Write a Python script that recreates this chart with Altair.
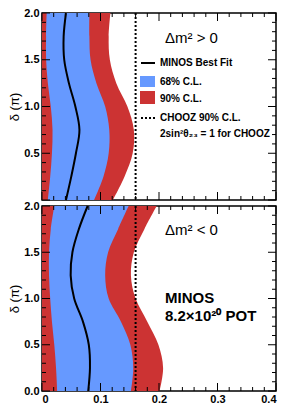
import altair as alt
import pandas as pd

# ---------------- data ----------------
delta = [0.0, 0.25, 0.5, 0.75, 1.0, 1.25, 1.5, 1.75, 2.0]
zero = [0.0, 0.0, 0.0, 0.0, 0.0, 0.0, 0.0, 0.0, 0.0]

# Delta m^2 > 0 (top panel)
pos_blue_lo = [0.010, 0.014, 0.017, 0.018, 0.015, 0.010, 0.007, 0.007, 0.008]
pos_best = [0.041, 0.050, 0.058, 0.064, 0.057, 0.046, 0.038, 0.037, 0.041]
pos_blue_hi = [0.089, 0.105, 0.114, 0.115, 0.108, 0.093, 0.083, 0.081, 0.081]
pos_red_hi = [0.121, 0.141, 0.155, 0.157, 0.146, 0.127, 0.116, 0.114, 0.117]

# Delta m^2 < 0 (bottom panel)
neg_blue_lo = [0.026, 0.024, 0.021, 0.017, 0.014, 0.012, 0.012, 0.015, 0.021]
neg_best = [0.079, 0.082, 0.080, 0.070, 0.055, 0.049, 0.052, 0.063, 0.078]
neg_blue_hi = [0.152, 0.156, 0.151, 0.135, 0.114, 0.108, 0.113, 0.130, 0.148]
neg_red_hi = [0.201, 0.207, 0.199, 0.180, 0.160, 0.152, 0.157, 0.175, 0.196]

chooz = [0.16]

x_major = [0.0, 0.1, 0.2, 0.3, 0.4]
x_minor = [0.02, 0.04, 0.06, 0.08, 0.12, 0.14, 0.16, 0.18, 0.22, 0.24, 0.26, 0.28,
           0.32, 0.34, 0.36, 0.38]
y_major = [0.0, 0.5, 1.0, 1.5, 2.0]
y_minor = [0.1, 0.2, 0.3, 0.4, 0.6, 0.7, 0.8, 0.9, 1.1, 1.2, 1.3, 1.4, 1.6, 1.7, 1.8, 1.9]
y_labels_top = [0.5, 1.0, 1.5, 2.0]
y_labels_bottom = [0.0, 0.5, 1.0, 1.5, 2.0]

legend_labels = ["MINOS Best Fit", "68% C.L.", "90% C.L.", "CHOOZ 90% C.L.",
                 "2sin\u00b2\u03b8\u2082\u2083 = 1 for CHOOZ"]
top_label = "\u0394m\u00b2 > 0"
bottom_label = "\u0394m\u00b2 < 0"
exposure_labels = ["MINOS", "8.2\u00d710\u00b2\u2070 POT"]

y_title = "\u03b4 (\u03c0)"

BLUE = "#6699ff"
RED = "#cc3333"
FONT = "Liberation Sans"
W = 234


def make_panel(blue_lo, best, blue_hi, red_hi, h, bottom, ylabels, texts):
    df = pd.DataFrame({"delta": delta, "zero": zero, "blue_lo": blue_lo,
                       "best": best, "blue_hi": blue_hi, "red_hi": red_hi})
    xscale = alt.Scale(domain=[0, 0.4], nice=False, zero=False)
    yscale = alt.Scale(domain=[0, 2], nice=False, zero=False)
    if bottom:
        xaxis = alt.Axis(values=x_major, ticks=False, domain=False, grid=False,
                         labelExpr="datum.value == 0 ? '0' : format(datum.value, '.1f')",
                         labelFont=FONT, labelFontWeight="bold", labelFontSize=11,
                         labelColor="black", labelPadding=2, labelFlush=True,
                         labelOverlap=False, labelBound=False, title=None)
    else:
        xaxis = None
    yaxis = alt.Axis(values=ylabels, format=".1f", ticks=False, domain=False, grid=False,
                     labelFont=FONT, labelFontWeight="bold", labelFontSize=11,
                     labelColor="black", labelPadding=3, labelFlush=False,
                     labelOverlap=False, labelBound=False,
                     title=y_title, titleFont=FONT, titleFontWeight="normal",
                     titleFontSize=13, titleColor="black", titlePadding=2)

    def X(f):
        return alt.X(f, scale=xscale, axis=xaxis, title=None)

    def Y(f):
        return alt.Y(f, scale=yscale, axis=yaxis, title=y_title)

    base = alt.Chart(df)
    red = base.mark_area(color=RED, orient="horizontal", interpolate="catmull-rom",
                         opacity=1).encode(y=Y("delta:Q"), x=X("zero:Q"), x2="red_hi:Q")
    blue = base.mark_area(color=BLUE, orient="horizontal", interpolate="catmull-rom",
                          opacity=1).encode(y=Y("delta:Q"), x=X("blue_lo:Q"), x2="blue_hi:Q")
    line = base.mark_line(color="black", strokeWidth=2, interpolate="catmull-rom").encode(
        y=Y("delta:Q"), x=X("best:Q"), order="delta:Q")
    ch = alt.Chart(pd.DataFrame({"c": chooz})).mark_rule(
        color="black", strokeWidth=2, strokeDash=[2, 2]).encode(x=X("c:Q"))

    layers = [red, blue, line, ch]

    # inward ticks
    for vals, L in [(x_major, 8), (x_minor, 4)]:
        d = alt.Chart(pd.DataFrame({"v": vals}))
        layers.append(d.mark_rule(color="black", strokeWidth=1).encode(
            x=X("v:Q"), y=alt.value(h), y2=alt.value(h - L)))
        layers.append(d.mark_rule(color="black", strokeWidth=1).encode(
            x=X("v:Q"), y=alt.value(0), y2=alt.value(L)))
    for vals, L in [(y_major, 8), (y_minor, 4)]:
        d = alt.Chart(pd.DataFrame({"v": vals}))
        layers.append(d.mark_rule(color="black", strokeWidth=1).encode(
            y=Y("v:Q"), x=alt.value(0), x2=alt.value(L)))
        layers.append(d.mark_rule(color="black", strokeWidth=1).encode(
            y=Y("v:Q"), x=alt.value(W - L), x2=alt.value(W)))

    one = alt.Chart(pd.DataFrame({"a": [0]}))
    for (txt, px, py, size, weight) in texts:
        layers.append(one.mark_text(align="left", baseline="middle", font=FONT,
                                    fontSize=size, fontWeight=weight, color="black").encode(
            x=alt.value(px), y=alt.value(py), text=alt.value(txt)))
    return layers, one


# top panel
top_texts = [
    (top_label, 123, 25, 15, "normal"),
    (legend_labels[0], 118, 50, 10, "bold"),
    (legend_labels[1], 118, 69, 10, "bold"),
    (legend_labels[2], 118, 86, 10, "bold"),
    (legend_labels[3], 118, 105, 10, "bold"),
    (legend_labels[4], 118, 121, 10, "bold"),
]
top_layers, one = make_panel(pos_blue_lo, pos_best, pos_blue_hi, pos_red_hi, 187, False,
                             y_labels_top, top_texts)
# legend symbols
top_layers.append(one.mark_rule(color="black", strokeWidth=2).encode(
    x=alt.value(99), x2=alt.value(113), y=alt.value(50)))
top_layers.append(one.mark_rect(color=BLUE).encode(
    x=alt.value(98), x2=alt.value(113), y=alt.value(63), y2=alt.value(74)))
top_layers.append(one.mark_rect(color=RED).encode(
    x=alt.value(98), x2=alt.value(113), y=alt.value(78), y2=alt.value(91)))
top_layers.append(one.mark_rule(color="black", strokeWidth=2, strokeDash=[2, 2]).encode(
    x=alt.value(99), x2=alt.value(113), y=alt.value(105)))

top = alt.layer(*top_layers).properties(width=W, height=187)

bottom_texts = [
    (bottom_label, 123, 24, 15, "normal"),
    (exposure_labels[0], 123, 92, 15, "bold"),
    (exposure_labels[1], 123, 110, 15, "bold"),
]
bot_layers, _ = make_panel(neg_blue_lo, neg_best, neg_blue_hi, neg_red_hi, 185, True,
                           y_labels_bottom, bottom_texts)
bot = alt.layer(*bot_layers).properties(width=W, height=185)

chart = alt.vconcat(top, bot, spacing=6, bounds="flush").properties(
    padding={"left": -1, "top": -2, "right": 0, "bottom": 0}
).configure_view(stroke="black", strokeWidth=1.5)

chart.save("out.html", embed_options={"renderer": "svg", "actions": False})
